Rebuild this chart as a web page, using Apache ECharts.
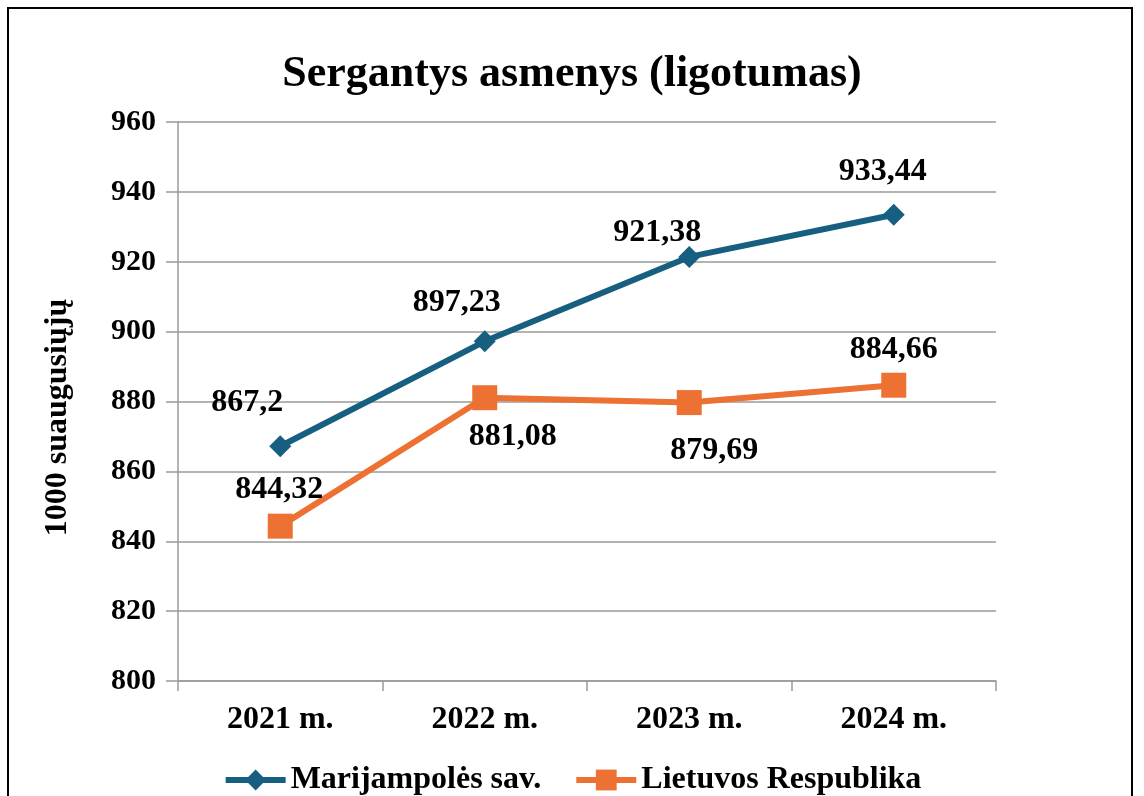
<!DOCTYPE html>
<html>
<head>
<meta charset="utf-8">
<script src="https://cdn.jsdelivr.net/npm/echarts@6/dist/echarts.min.js"></script>
<style>
    html, body { margin: 0; padding: 0; background: #fff; overflow: hidden; }
    #frame { position: absolute; left: 7px; top: 7px; width: 1126px; height: 900px; border: 2px solid #000; box-sizing: border-box; }
    #chart { position: absolute; left: 0; top: 0; width: 1144px; height: 796px; }
</style>
</head>
<body>
<div id="frame"></div>
<div id="chart"></div>
<script>
var years = ["2021 m.", "2022 m.", "2023 m.", "2024 m."];
var marijampole = [867.2, 897.23, 921.38, 933.44];
var lietuva = [844.32, 881.08, 879.69, 884.66];

// etikeciu poslinkiai nuo tasko centro
var blueOffsets = [[-33, -43], [-28, -39], [-32, -24], [-11, -43]];
var orangeOffsets = [[-1, -36], [28, 39], [25, 48], [0, -35]];

var font = "'Liberation Serif', 'Times New Roman', serif";

function withLabels(values, offsets) {
    return values.map(function(v, i) {
        return {
            value: v,
            label: { offset: offsets[i] }
        };
    });
}

function fmt(p) {
    return String(p.value).replace(".", ",");
}

var myChart = echarts.init(document.getElementById("chart"));
var option = {
    backgroundColor: "transparent",
    animation: false,
    title: {
        text: "Sergantys asmenys (ligotumas)",
        left: "center",
        top: 48,
        textStyle: { fontFamily: font, fontWeight: "bold", fontSize: 44, color: "#000" }
    },
    legend: {
        left: "center",
        top: 759,
        itemWidth: 60,
        itemHeight: 26,
        itemGap: 32,
        lineStyle: { width: 6 },
        textStyle: { fontFamily: font, fontWeight: "bold", fontSize: 32, color: "#000" },
        data: ["Marijampolės sav.", "Lietuvos Respublika"]
    },
    grid: { left: 178, right: 148, top: 122, bottom: 115 },
    xAxis: {
        type: "category",
        data: years,
        boundaryGap: true,
        axisLine: { lineStyle: { color: "#9a9a9a", width: 1.5 } },
        axisTick: { show: true, length: 10, lineStyle: { color: "#9a9a9a", width: 1.5 } },
        axisLabel: { margin: 23, fontFamily: font, fontWeight: "bold", fontSize: 32, color: "#000" }
    },
    yAxis: {
        type: "value",
        min: 800,
        max: 960,
        interval: 20,
        name: "1000 suaugusiųjų",
        nameLocation: "middle",
        nameGap: 104,
        nameRotate: 90,
        nameTextStyle: { fontFamily: font, fontWeight: "bold", fontSize: 32, color: "#000", padding: [0, 32, 0, 0] },
        axisLine: { show: true, lineStyle: { color: "#9a9a9a", width: 1.5 } },
        axisTick: { show: true, length: 12, lineStyle: { color: "#9a9a9a", width: 1.5 } },
        axisLabel: { margin: 22, fontFamily: font, fontWeight: "bold", fontSize: 30, color: "#000" },
        splitLine: { lineStyle: { color: "#9a9a9a", width: 1.5 } }
    },
    series: [
        {
            name: "Marijampolės sav.",
            type: "line",
            data: withLabels(marijampole, blueOffsets),
            symbol: "diamond",
            symbolSize: 22,
            itemStyle: { color: "#175f80" },
            lineStyle: { color: "#175f80", width: 6 },
            label: {
                show: true,
                position: "inside",
                formatter: fmt,
                fontFamily: font, fontWeight: "bold", fontSize: 32, color: "#000"
            }
        },
        {
            name: "Lietuvos Respublika",
            type: "line",
            data: withLabels(lietuva, orangeOffsets),
            symbol: "rect",
            symbolSize: 25,
            itemStyle: { color: "#ec7133" },
            lineStyle: { color: "#ec7133", width: 6 },
            label: {
                show: true,
                position: "inside",
                formatter: fmt,
                fontFamily: font, fontWeight: "bold", fontSize: 32, color: "#000"
            }
        }
    ]
};
myChart.setOption(option);
</script>
</body>
</html>
